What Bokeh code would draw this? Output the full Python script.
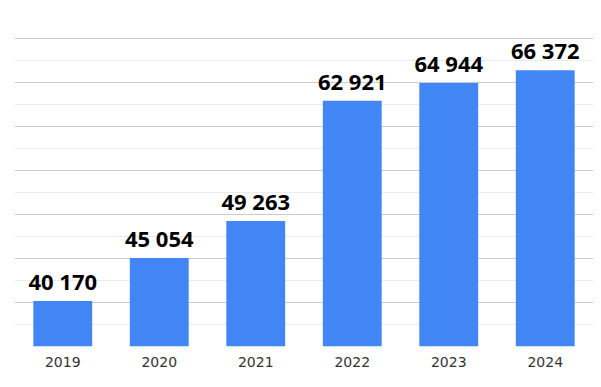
from bokeh.plotting import figure
from bokeh.models import ColumnDataSource, FixedTicker, Range1d
from bokeh.core.properties import value
from bokeh.embed import file_html
from bokeh.resources import INLINE

years = ["2019", "2020", "2021", "2022", "2023", "2024"]
values = [40170, 45054, 49263, 62921, 64944, 66372]
labels = ["40 170", "45 054", "49 263", "62 921", "64 944", "66 372"]
y_min = 35000
y_max = 70100
major_ticks = [35000, 40000, 45000, 50000, 55000, 60000, 65000, 70000]
minor_ticks = [37500, 42500, 47500, 52500, 57500, 62500, 67500]

src = ColumnDataSource(dict(x=years, top=values, label=labels))

p = figure(x_range=years, y_range=Range1d(y_min, y_max), width=598, height=378,
           output_backend="svg", toolbar_location=None,
           min_border_left=14, min_border_right=5, min_border_top=37, min_border_bottom=32)
p.outline_line_color = None
p.background_fill_color = "white"
p.border_fill_color = "white"

p.vbar(x="x", top="top", bottom=y_min, width=0.61, source=src,
       fill_color="#4285F4", line_color=None)

p.text(x="x", y="top", text="label", source=src, y_offset=-20,
       text_align="center", text_baseline="alphabetic",
       text_font=value("Open Sans"), text_font_style="bold",
       text_font_size="22px", text_color="#000000")

p.yaxis.visible = False
p.ygrid.ticker = FixedTicker(ticks=major_ticks, minor_ticks=minor_ticks)
p.ygrid.grid_line_color = "#cccccc"
p.ygrid.grid_line_width = 1
p.ygrid.minor_grid_line_color = "#ebebeb"
p.ygrid.minor_grid_line_width = 1
p.xgrid.grid_line_color = None

p.xaxis.axis_line_color = None
p.xaxis.major_tick_line_color = None
p.xaxis.minor_tick_line_color = None
p.xaxis.major_tick_out = 0
p.xaxis.major_label_standoff = 10
p.xaxis.major_label_text_font = "DejaVu Sans"
p.xaxis.major_label_text_font_size = "14px"
p.xaxis.major_label_text_color = "#333333"

open("out.html", "w").write(file_html(p, INLINE))
